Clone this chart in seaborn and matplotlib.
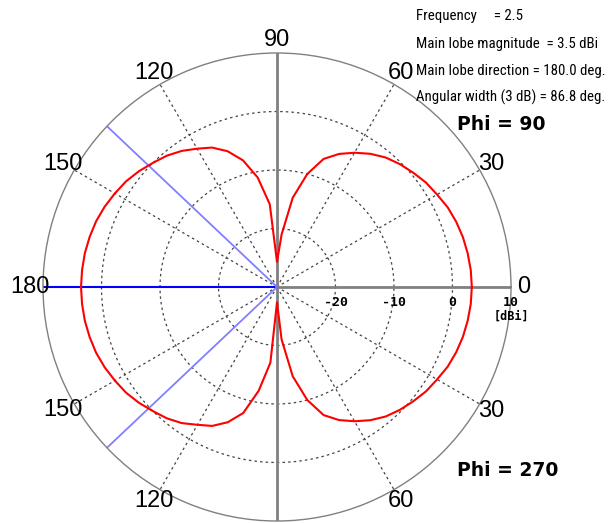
import numpy as np
import pandas as pd
import matplotlib
matplotlib.use("Agg")
import matplotlib.pyplot as plt
from matplotlib import font_manager
import seaborn as sns

# ---- data ----
angles_deg = list(range(0, 360, 5))
gain_dbi = [
    3.3, 3.25, 3.1, 2.9, 2.6, 2.2, 1.6, 1.1, 0.4, -0.3, -1.1, -2.2, -3.5, -4.9, -6.7, -10.0, -14.5, -21.0,
    -25.7, -15.8, -11.0, -7.6, -5.3, -3.7, -2.7, -1.6, -0.7, 0.0, 0.8, 1.5, 2.0, 2.5, 2.9, 3.15, 3.35, 3.45,
    3.5, 3.45, 3.35, 3.15, 2.9, 2.5, 2.0, 1.5, 0.8, 0.0, -0.7, -1.6, -2.8, -3.8, -5.4, -7.7, -12.0, -17.0,
    -27.4, -21.0, -14.5, -10.0, -6.7, -4.9, -3.5, -2.2, -1.1, -0.3, 0.4, 1.1, 1.6, 2.2, 2.6, 2.9, 3.1, 3.25,
]
r_min, r_max = -30, 10
ring_values = [-20, -10, 0]
ring_labels = ["-20", "-10", "0", "10"]
spoke_angles = [30, 60, 120, 150, 210, 240, 300, 330]
angle_label_pos = [0, 30, 60, 90, 120, 150, 180, 210, 240, 300, 330]
angle_label_txt = ["0", "30", "60", "90", "120", "150", "180", "150", "120", "60", "30"]
main_dir = 180.0
beamwidth = 86.8
info_lines = ["Frequency     = 2.5",
              "Main lobe magnitude  = 3.5 dBi",
              "Main lobe direction = 180.0 deg.",
              "Angular width (3 dB) = 86.8 deg."]

sns.set_style("white")
plt.rcParams['font.family'] = ['DejaVu Sans']

# pick a condensed family if one is installed
names = {f.name for f in font_manager.fontManager.ttflist}
cond = None
for cand in ["Roboto Condensed", "Liberation Sans Narrow", "DejaVu Sans Condensed",
             "Open Sans Condensed", "Noto Sans Condensed", "Arial Narrow"]:
    if cand in names:
        cond = cand
        break
cond_stretch = "normal"
if cond is None:
    for f in font_manager.fontManager.ttflist:
        if f.stretch in ("condensed", "semi-condensed", "extra-condensed") and "Mono" not in f.name:
            cond = f.name
            cond_stretch = f.stretch
            break
if cond is None:
    cond = "Liberation Sans"
    info_size = 9.2
else:
    info_size = 10.7

W, H = 612, 523
fig = plt.figure(figsize=(W / 100, H / 100), dpi=100)
cx, cy, R = 277, 287, 234
ax = fig.add_axes([(cx - R) / W, (H - cy - R) / H, 2 * R / W, 2 * R / H], projection="polar")
ax.set_theta_zero_location("E")
ax.set_ylim(r_min, r_max)
ax.grid(False)
ax.set_xticks([])
ax.set_yticks([])
ax.spines["polar"].set_color("#808080")
ax.spines["polar"].set_linewidth(1.0)
ax.patch.set_alpha(0)

th_full = np.linspace(0, 2 * np.pi, 361)
for rv in ring_values:
    ax.plot(th_full, np.full_like(th_full, rv), color="#444444", lw=0.9, ls=(0, (2, 2.5)))
for a in spoke_angles:
    ax.plot([np.deg2rad(a)] * 2, [r_min, r_max], color="#444444", lw=0.9, ls=(0, (2, 2.5)))

# axes lines
ax.plot([0, 0], [r_min, r_max], color="#808080", lw=2)
ax.plot([np.pi / 2] * 2, [r_min, r_max], color="#808080", lw=2)
ax.plot([3 * np.pi / 2] * 2, [r_min, r_max], color="#808080", lw=2)

# main lobe and half power directions
ax.plot([np.deg2rad(main_dir)] * 2, [r_min, r_max], color="#0000ff", lw=1.5)
for a in (main_dir - beamwidth / 2, main_dir + beamwidth / 2):
    ax.plot([np.deg2rad(a)] * 2, [r_min, r_max], color="#8080ff", lw=1.3)

# pattern
df = pd.DataFrame({"theta": np.deg2rad(angles_deg + [angles_deg[0]]),
                   "gain": np.clip(gain_dbi + [gain_dbi[0]], r_min, r_max)})
sns.lineplot(data=df, x="theta", y="gain", ax=ax, sort=False, color="red", lw=1.5, estimator=None)
ax.set_xlabel("")
ax.set_ylabel("")
ax.set_ylim(r_min, r_max)

# radial labels
for val, txt in zip(ring_values + [r_max], ring_labels):
    ax.annotate(txt, xy=(0, val), xytext=(0, -11), textcoords="offset points",
                ha="center", va="center", fontsize=9.5, fontweight="bold", color="black",
                family="DejaVu Sans Mono", annotation_clip=False)
ax.annotate("[dBi]", xy=(0, r_max), xytext=(0, -21), textcoords="offset points",
            ha="center", va="center", fontsize=8.5, fontweight="bold", color="black",
            family="DejaVu Sans Mono", annotation_clip=False)

# angle labels
r_lab = r_min + (r_max - r_min) * 247 / R
for a, t in zip(angle_label_pos, angle_label_txt):
    ax.text(np.deg2rad(a), r_lab, t, ha="center", va="center", fontsize=17, color="black",
            family="Liberation Sans", clip_on=False)

fig.text(457 / W, 1 - 125 / H, "Phi = 90", fontsize=13.5, fontweight="bold", color="black",
         ha="left", va="center")
fig.text(457 / W, 1 - 470 / H, "Phi = 270", fontsize=13.5, fontweight="bold", color="black",
         ha="left", va="center")

ys = [16, 44, 71, 97]
for y, t in zip(ys, info_lines):
    fig.text(416 / W, 1 - y / H, t, fontsize=info_size, ha="left", va="center", color="black",
             family=[cond, "DejaVu Sans"], fontstretch=cond_stretch)

fig.savefig("out.png", dpi=100)
